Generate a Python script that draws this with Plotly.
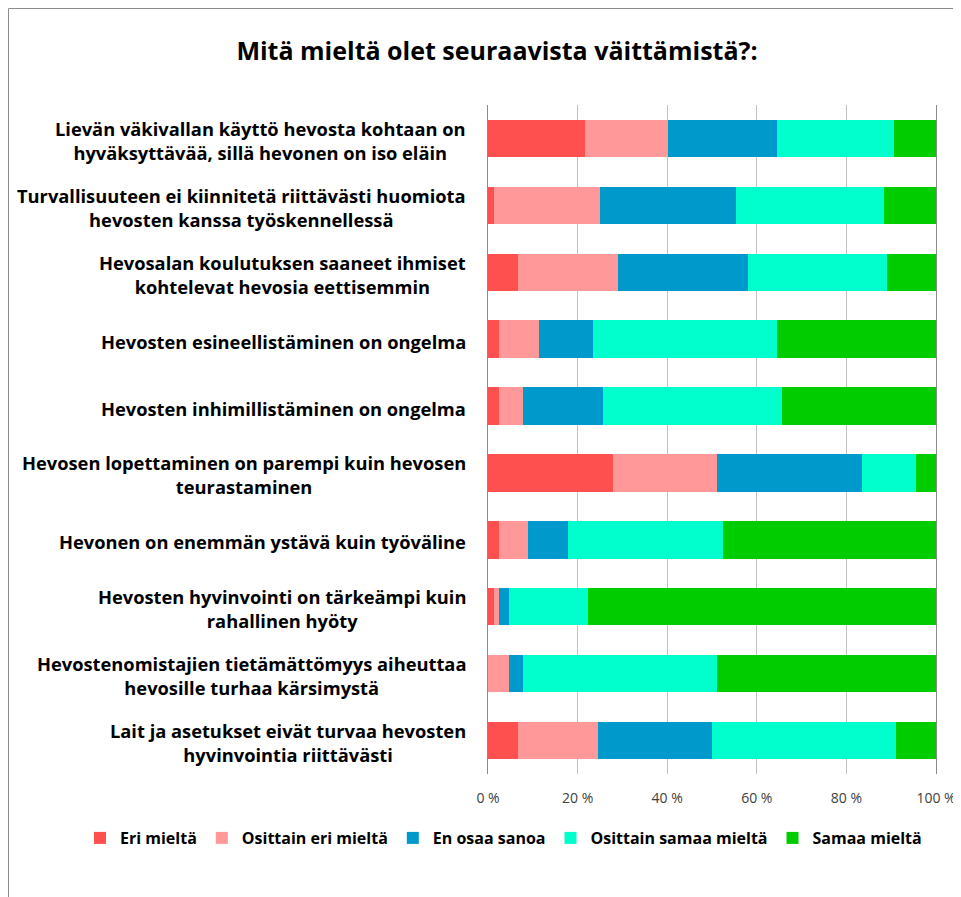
import plotly.graph_objects as go

# statements (top to bottom as in the chart)
statements = [
    "Lievän väkivallan käyttö hevosta kohtaan on<br>hyväksyttävää, sillä hevonen on iso eläin",
    "Turvallisuuteen ei kiinnitetä riittävästi huomiota<br>hevosten kanssa työskennellessä",
    "Hevosalan koulutuksen saaneet ihmiset<br>kohtelevat hevosia eettisemmin",
    "Hevosten esineellistäminen on ongelma",
    "Hevosten inhimillistäminen on ongelma",
    "Hevosen lopettaminen on parempi kuin hevosen<br>teurastaminen",
    "Hevonen on enemmän ystävä kuin työväline",
    "Hevosten hyvinvointi on tärkeämpi kuin<br>rahallinen hyöty",
    "Hevostenomistajien tietämättömyys aiheuttaa<br>hevosille turhaa kärsimystä",
    "Lait ja asetukset eivät turvaa hevosten<br>hyvinvointia riittävästi",
]

# shares in percent, one list per answer option
eri_mielta = [21.6, 1.3, 6.8, 2.4, 2.4, 27.8, 2.4, 1.3, 0.0, 6.8]
osittain_eri = [18.5, 23.6, 22.2, 8.9, 5.5, 23.4, 6.6, 1.1, 4.6, 17.7]
en_osaa = [24.4, 30.4, 29.0, 12.1, 17.7, 32.2, 8.8, 2.2, 3.3, 25.6]
osittain_samaa = [26.2, 33.1, 31.0, 41.1, 40.0, 12.1, 34.6, 17.7, 43.3, 41.0]
samaa_mielta = [9.3, 11.6, 11.1, 35.5, 34.4, 4.5, 47.6, 77.7, 48.8, 8.9]

series_names = ["Eri mieltä", "Osittain eri mieltä", "En osaa sanoa",
                "Osittain samaa mieltä", "Samaa mieltä"]
series_values = [eri_mielta, osittain_eri, en_osaa, osittain_samaa, samaa_mielta]
series_colors = ["#FF5050", "#FF9999", "#0099CC", "#00FFCC", "#00CC00"]

tick_vals = [0, 20, 40, 60, 80, 100]
tick_text = ["0 %", "20 %", "40 %", "60 %", "80 %", "100 %"]

FONT = "'Open Sans', sans-serif"

# the page puts the figure 8px in from the corner, sizes below account for it
W, H = 953, 889
L, R, T, B = 480, 25, 97, 123
plot_w = W - L - R
plot_h = H - T - B

fig = go.Figure()
for name, values, color in zip(series_names, series_values, series_colors):
    fig.add_trace(
        go.Bar(
            y=statements,
            x=values,
            name=name,
            orientation="h",
            marker=dict(color=color, line=dict(width=0)),
            hovertemplate="%{x:.1f} %<extra>" + name + "</extra>",
        )
    )

# category labels, lines centred like in the original
for s in statements:
    fig.add_annotation(
        x=0,
        xref="paper",
        y=s,
        yref="y",
        text=s,
        showarrow=False,
        xanchor="right",
        yanchor="middle",
        align="center",
        xshift=-20,
        yshift=-2,
        font=dict(size=18.3, family=FONT, color="black", weight="bold"),
    )

fig.update_layout(
    barmode="stack",
    bargap=0.44,
    width=W,
    height=H,
    margin=dict(l=L, r=R, t=T, b=B, autoexpand=False),
    paper_bgcolor="white",
    plot_bgcolor="white",
    font=dict(family=FONT, color="black"),
    title=dict(
        text="Mitä mieltä olet seuraavista väittämistä?:",
        x=489 / W,
        xanchor="center",
        y=1 - 43 / H,
        yanchor="middle",
        font=dict(size=25, family=FONT, color="black", weight="bold"),
    ),
    # legend placed left of / below the plot so it may use the full width
    legend=dict(
        orientation="h",
        x=(72 - L) / plot_w,
        xanchor="left",
        y=(plot_h + T - 830) / plot_h,
        yanchor="middle",
        bgcolor="rgba(0,0,0,0)",
        font=dict(size=16, family=FONT, color="black", weight="bold"),
        itemwidth=30,
        traceorder="normal",
    ),
    showlegend=True,
)

fig.update_xaxes(
    range=[0, 100],
    tickvals=tick_vals,
    ticktext=tick_text,
    showgrid=True,
    gridcolor="#C0C0C0",
    gridwidth=1,
    zeroline=False,
    tickfont=dict(size=14, color="#404040"),
    ticks="",
    ticklabelstandoff=14,
    automargin=False,
)

fig.update_yaxes(
    autorange="reversed",
    showline=True,
    mirror=True,
    linecolor="#8C8C8C",
    linewidth=1,
    showticklabels=False,
    ticks="",
    automargin=False,
)

# outer chart border
fig.add_shape(
    type="rect",
    xref="paper",
    yref="paper",
    x0=(0.5 - L) / plot_w,
    x1=(W + 20 - L) / plot_w,
    y0=(plot_h + T - H - 20) / plot_h,
    y1=(plot_h + T - 0.5) / plot_h,
    line=dict(color="#8C8C8C", width=1),
    fillcolor="rgba(0,0,0,0)",
    layer="below",
)

fig.write_html("out.html")
